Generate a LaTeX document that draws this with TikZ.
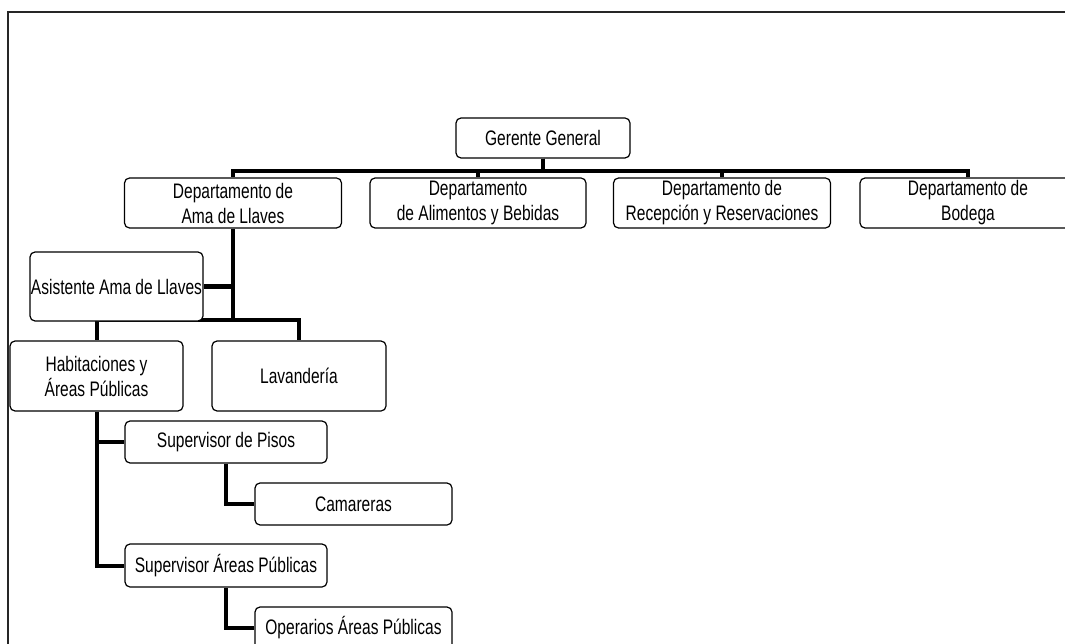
\documentclass[tikz,border=0pt]{standalone}
\usepackage{fontspec}
\setmainfont[FakeStretch=0.74]{Liberation Sans}
\usetikzlibrary{backgrounds}

\begin{document}
\begin{tikzpicture}[x=1pt,y=-1pt,
        caja/.style={draw, rounded corners=5pt, fill=white, line width=1.2pt, inner sep=0pt,
          align=center, font=\fontsize{21pt}{25pt}\selectfont},
        enlace/.style={line width=4pt}]
        \useasboundingbox (0,0) rectangle (1065,644);
        \draw [line width=1.2pt, black!85] (1065,12) -- (8,12) -- (8,644);

        \node [caja, minimum width=174pt, minimum height=40pt] (gerente) at (543,138) {Gerente General};
        \node [caja, minimum width=217pt, minimum height=50pt] (ama) at (233,203) {Departamento de\\Ama de Llaves};
        \node [caja, minimum width=216pt, minimum height=50pt] (alimentos) at (478,203) {Departamento\\de Alimentos y Bebidas};
        \node [caja, minimum width=217pt, minimum height=50pt] (recepcion) at (722,203) {Departamento de\\Recepción y Reservaciones};
        \node [caja, minimum width=216pt, minimum height=50pt] (bodega) at (968,203) {Departamento de\\Bodega};
        \node [caja, minimum width=173pt, minimum height=69pt] (asistente) at (116.5,286.5) {Asistente Ama de Llaves};
        \node [caja, minimum width=173pt, minimum height=70pt] (habitaciones) at (96.5,376) {Habitaciones y\\Áreas Públicas};
        \node [caja, minimum width=174pt, minimum height=70pt] (lavanderia) at (299,376) {Lavandería};
        \node [caja, minimum width=202pt, minimum height=42pt] (pisos) at (226,442) {Supervisor de Pisos};
        \node [caja, minimum width=197pt, minimum height=42pt] (camareras) at (353.5,504) {Camareras};
        \node [caja, minimum width=202pt, minimum height=43pt] (supareas) at (226,565.5) {Supervisor Áreas Públicas};
        \node [caja, minimum width=197pt, minimum height=42pt] (operarios) at (353.5,628) {Operarios Áreas Públicas};

        \begin{pgfonlayer}{background}
        \draw [enlace] (gerente.south) -- ++(0,12) -| (ama.north);
        \draw [enlace] (gerente.south) -- ++(0,12) -| (alimentos.north);
        \draw [enlace] (gerente.south) -- ++(0,12) -| (recepcion.north);
        \draw [enlace] (gerente.south) -- ++(0,12) -| (bodega.north);
        \draw [enlace] (ama.south) -- ++(0,91) coordinate (nudo);
        \draw [enlace] (asistente.east) -- (asistente.east -| ama.south);
        \draw [enlace] (nudo) -| (lavanderia.north);
        \draw [enlace] (nudo) -| (habitaciones.north);
        \draw [enlace] (habitaciones.south) |- (pisos.west);
        \draw [enlace] (habitaciones.south) |- (supareas.west);
        \draw [enlace] (pisos.south) |- (camareras.west);
        \draw [enlace] (supareas.south) |- (operarios.west);
        \end{pgfonlayer}
    \end{tikzpicture}
\end{document}
